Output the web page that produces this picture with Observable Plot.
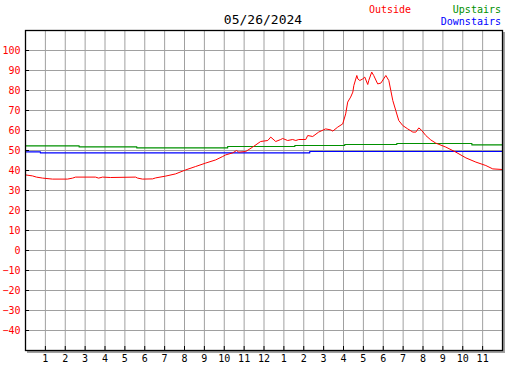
<!DOCTYPE html>
<html>
<head>
<meta charset="utf-8">
<script src="https://cdn.jsdelivr.net/npm/d3@7"></script>
<script src="https://cdn.jsdelivr.net/npm/@observablehq/plot@0.6"></script>
<style>
  body { margin: 0; background: white; }
  #wrap { position: relative; width: 527px; height: 370px; font-family: "DejaVu Sans Mono", monospace; }
  .lbl { position: absolute; white-space: nowrap; line-height: 1; }
</style>
</head>
<body>
<div id="wrap">
  <div class="lbl" id="title" style="left:263px; top:13px; font-size:13px; color:#000; transform:translateX(-50%);">05/26/2024</div>
  <div class="lbl" style="left:369px; top:5px; font-size:10px; color:#ff0000;">Outside</div>
  <div class="lbl" style="right:26px; top:5px; font-size:10px; color:#009000;">Upstairs</div>
  <div class="lbl" style="right:26px; top:17px; font-size:10px; color:#0000ff;">Downstairs</div>
</div>
<script>
// Outside temperature (hour of day, °F)
const outsideHours = [0, 0.35, 0.55, 0.86, 1.36, 2.11, 2.37, 2.52, 3.52, 3.68, 3.88, 4.28, 5.54, 5.64, 5.89, 6.39, 6.55, 7.05, 7.55, 8.06, 8.56, 9.06, 9.57, 9.92, 10.07, 10.42, 10.62, 10.73, 11.08, 11.43, 11.83, 12.19, 12.34, 12.59, 12.84, 12.94, 13.19, 13.44, 13.6, 13.75, 14.1, 14.2, 14.45, 14.75, 15.1, 15.36, 15.46, 15.71, 15.96, 16.11, 16.21, 16.36, 16.47, 16.52, 16.67, 16.72, 16.82, 16.97, 17.07, 17.22, 17.27, 17.42, 17.52, 17.72, 17.88, 18.13, 18.28, 18.38, 18.48, 18.63, 18.78, 18.98, 19.23, 19.49, 19.64, 19.79, 19.94, 20.14, 20.39, 20.64, 21.15, 21.65, 22.16, 22.66, 23.16, 23.51, 24];
const outsideTemps = [37.8, 37.3, 36.7, 36.2, 35.7, 35.7, 36.2, 36.7, 36.7, 36.2, 36.7, 36.5, 36.7, 36.2, 35.7, 35.8, 36.3, 37.2, 38.3, 40.3, 42, 43.7, 45.3, 47, 47.8, 48.8, 50, 49.2, 49.5, 51.7, 54.5, 55, 56.7, 54.5, 55.5, 56, 55, 55.5, 55, 55.5, 55.5, 57.5, 57, 59.2, 60.8, 60.3, 59.7, 61.7, 63.3, 68.3, 74.2, 76.7, 79.2, 82.5, 87.5, 85.8, 85, 85.8, 86.7, 83, 85, 89.2, 87.5, 83.3, 83.7, 87.5, 85, 80, 75, 70, 65, 62.5, 60.8, 59.2, 59.2, 61.3, 60, 57.5, 55.3, 53.7, 51.7, 49.2, 46.3, 44.2, 42.5, 40.8, 40.5];

// Upstairs temperature (step changes)
const upstairsHours = [0, 2.7, 5.6, 10.17, 13.55, 16.06, 18.68, 22.46, 24];
const upstairsTemps = [52.3, 51.8, 51.3, 52, 52.5, 53, 53.5, 52.8, 52.8];

// Downstairs temperature (step changes)
const downstairsHours = [0, 0.75, 14.3, 24];
const downstairsTemps = [49.3, 48.8, 49.5, 49.5];

// Axis ticks and labels
const hourTicks = [1,2,3,4,5,6,7,8,9,10,11,12,13,14,15,16,17,18,19,20,21,22,23];
const hourLabels = ["1","2","3","4","5","6","7","8","9","10","11","12","1","2","3","4","5","6","7","8","9","10","11"];
const tempTicks = [-40,-30,-20,-10,0,10,20,30,40,50,60,70,80,90,100];

const outside = outsideHours.map((h, i) => ({h, t: outsideTemps[i]}));
const upstairs = upstairsHours.map((h, i) => ({h, t: upstairsTemps[i]}));
const downstairs = downstairsHours.map((h, i) => ({h, t: downstairsTemps[i]}));

const chart = Plot.plot({
  width: 527,
  height: 370,
  marginLeft: 25,
  marginRight: 25,
  marginTop: 30,
  marginBottom: 20,
  style: { fontFamily: "DejaVu Sans Mono", fontSize: "10px", background: "transparent", overflow: "visible" },
  x: { domain: [0, 24] },
  y: { domain: [-50, 110] },
  marks: [
    Plot.frame({ fill: "#a0a0a0", stroke: "#a0a0a0", dx: 2, dy: 2 }),
    Plot.frame({ fill: "white" }),
    Plot.gridX({ ticks: hourTicks, stroke: "#a0a0a0", strokeOpacity: 1 }),
    Plot.gridY({ ticks: tempTicks, stroke: "#a0a0a0", strokeOpacity: 1 }),
    Plot.axisY({ ticks: tempTicks, tickSize: 4, dx: 4, tickFormat: () => "", stroke: "black", label: null }),
    Plot.axisY({ ticks: tempTicks, tickSize: 0, tickPadding: 5, fill: "#ff0000", label: null }),
    Plot.axisX({ ticks: hourTicks, tickSize: 4, dy: -4, tickFormat: () => "", stroke: "black", label: null }),
    Plot.axisX({ ticks: hourTicks, tickSize: 0, tickPadding: 4, tickFormat: d => hourLabels[d - 1], fill: "black", label: null }),
    Plot.line(upstairs, { x: "h", y: "t", curve: "step-after", stroke: "#009000", strokeWidth: 1.2 }),
    Plot.line(downstairs, { x: "h", y: "t", curve: "step-after", stroke: "#0000ff", strokeWidth: 1.2 }),
    Plot.line(outside, { x: "h", y: "t", stroke: "#ff0000", strokeWidth: 1 }),
    Plot.frame({ stroke: "black", strokeWidth: 1.3 })
  ]
});
chart.style.position = "absolute";
chart.style.left = "0";
chart.style.top = "0";
document.getElementById("wrap").prepend(chart);
</script>
</body>
</html>
